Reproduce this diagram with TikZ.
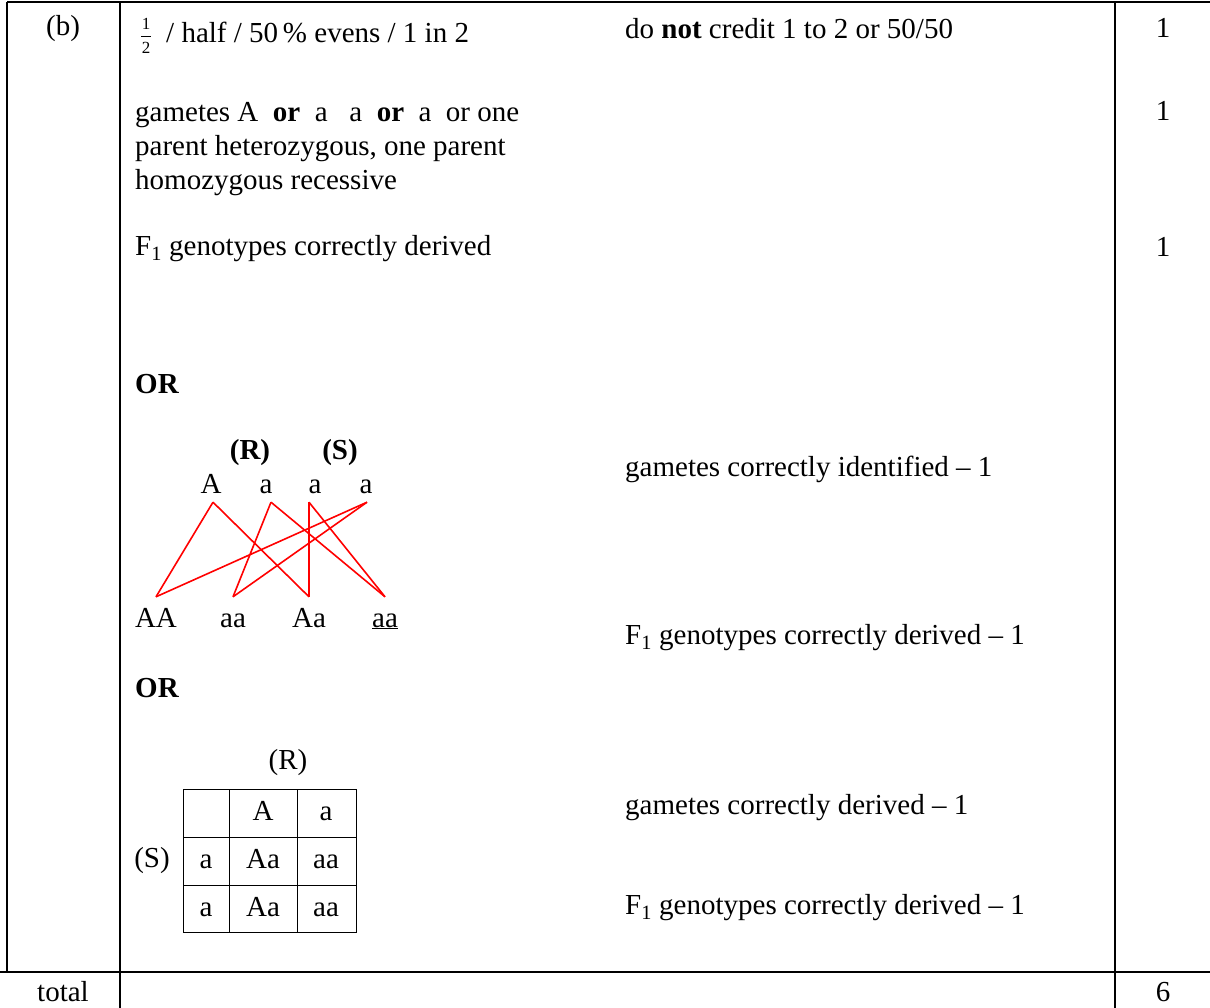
\documentclass[tikz,border=0pt]{standalone}
\usepackage{fontspec}
\setmainfont{Liberation Serif}

\begin{document}
\begin{tikzpicture}[x=1pt, y=-1pt,
	every node/.style={inner sep=0pt, font=\fontsize{29}{34}\selectfont},
	txt/.style={anchor=west, align=left},
	letter/.style={text height=20pt, text depth=6pt},
	gamete/.style={letter, inner xsep=0pt, inner ysep=3pt},
	offspring/.style={letter, inner xsep=0pt, inner ysep=10pt},
	cross/.style={draw=red, line width=1.6pt}]
	\useasboundingbox (0,0) rectangle (1210,1008);
	% table rules
	\draw[line width=2pt] (7,2) -- (1210,2);
	\draw[line width=2pt] (7,2) -- (7,972);
	\draw[line width=1.5pt] (120,2) -- (120,1008);
	\draw[line width=1.5pt] (1115,2) -- (1115,1008);
	\draw[line width=2.5pt] (0,972) -- (1210,972);

	\node (part) at (63,29){(b)};
	\node[font=\fontsize{17}{24}\selectfont, align=center] (half) at (146,36){1\\2};
	\draw[line width=0.6pt] ([xshift=-5pt]half.center) -- ([xshift=5pt]half.center);
	\node[anchor=base west] (ans1) at (166,43){/ half / 50\,\% evens / 1 in 2};
	\node[txt] (note1) at (625,29){do \textbf{not} credit 1 to 2 or 50/50};
	\node (mark1) at (1163,28){1};

	\node[txt] (ans2) at (135,149){gametes A\ \ \textbf{or}\ \ a\ \ \ a\ \ \textbf{or}\ \ a\ \ or one\\parent heterozygous, one parent\\homozygous recessive};
	\node (mark2) at (1163,111){1};

	\node[txt] (ans3) at (135,249){F\textsubscript{1} genotypes correctly derived};
	\node (mark3) at (1163,247){1};

	\node[txt] (or1) at (135,384){\textbf{OR}};
	\node (R1) at (250,453){\textbf{(R)}};
	\node (S1) at (340,453){\textbf{(S)}};
	\node[gamete] (gA) at (211,486){A};
	\node[gamete] (ga) at (266,486){a};
	\node[gamete] (gb) at (315,486){a};
	\node[gamete] (gc) at (366,486){a};
	\node[offspring] (oAA) at (156,620){AA};
	\node[offspring] (oaa) at (233,620){aa};
	\node[offspring] (oAa) at (309,620){Aa};
	\node[offspring] (obb) at (385,620){\underline{aa}};

	\path[cross] ([xshift=2pt]gA.south) -- (oAA.north);
	\path[cross] ([xshift=2pt]gA.south) -- (oAa.north);
	\path[cross] ([xshift=5pt]ga.south) -- (oaa.north);
	\path[cross] ([xshift=5pt]ga.south) -- (obb.north);
	\path[cross] ([xshift=-6pt]gb.south) -- (oAa.north);
	\path[cross] ([xshift=-6pt]gb.south) -- (obb.north);
	\path[cross] ([xshift=1pt]gc.south) -- (oAA.north);
	\path[cross] ([xshift=1pt]gc.south) -- (oaa.north);

	\node[txt] (note2) at (625,469){gametes correctly identified -- 1};
	\node[txt] (note3) at (625,638){F\textsubscript{1} genotypes correctly derived -- 1};

	\node[txt] (or2) at (135,688){\textbf{OR}};
	\node (R2) at (288,763){(R)};
	\node (S2) at (152,861){(S)};
	% Punnett square
	\draw[line width=1pt] (183,789) rectangle (356,932);
	\draw[line width=1pt] (229,789) -- (229,932) (297,789) -- (297,932)
		(183,837) -- (356,837) (183,885) -- (356,885);
	\node[letter] (c12) at (263,813){A};
	\node[letter] (c13) at (326,813){a};
	\node[letter] (c21) at (206,861){a};
	\node[letter] (c22) at (263,861){Aa};
	\node[letter] (c23) at (326,861){aa};
	\node[letter] (c31) at (206,909){a};
	\node[letter] (c32) at (263,909){Aa};
	\node[letter] (c33) at (326,909){aa};

	\node[txt] (note4) at (625,808){gametes correctly derived -- 1};
	\node[txt] (note5) at (625,908){F\textsubscript{1} genotypes correctly derived -- 1};

	\node (total) at (63,992){total};
	\node (sum) at (1163,992){6};
\end{tikzpicture}
\end{document}
